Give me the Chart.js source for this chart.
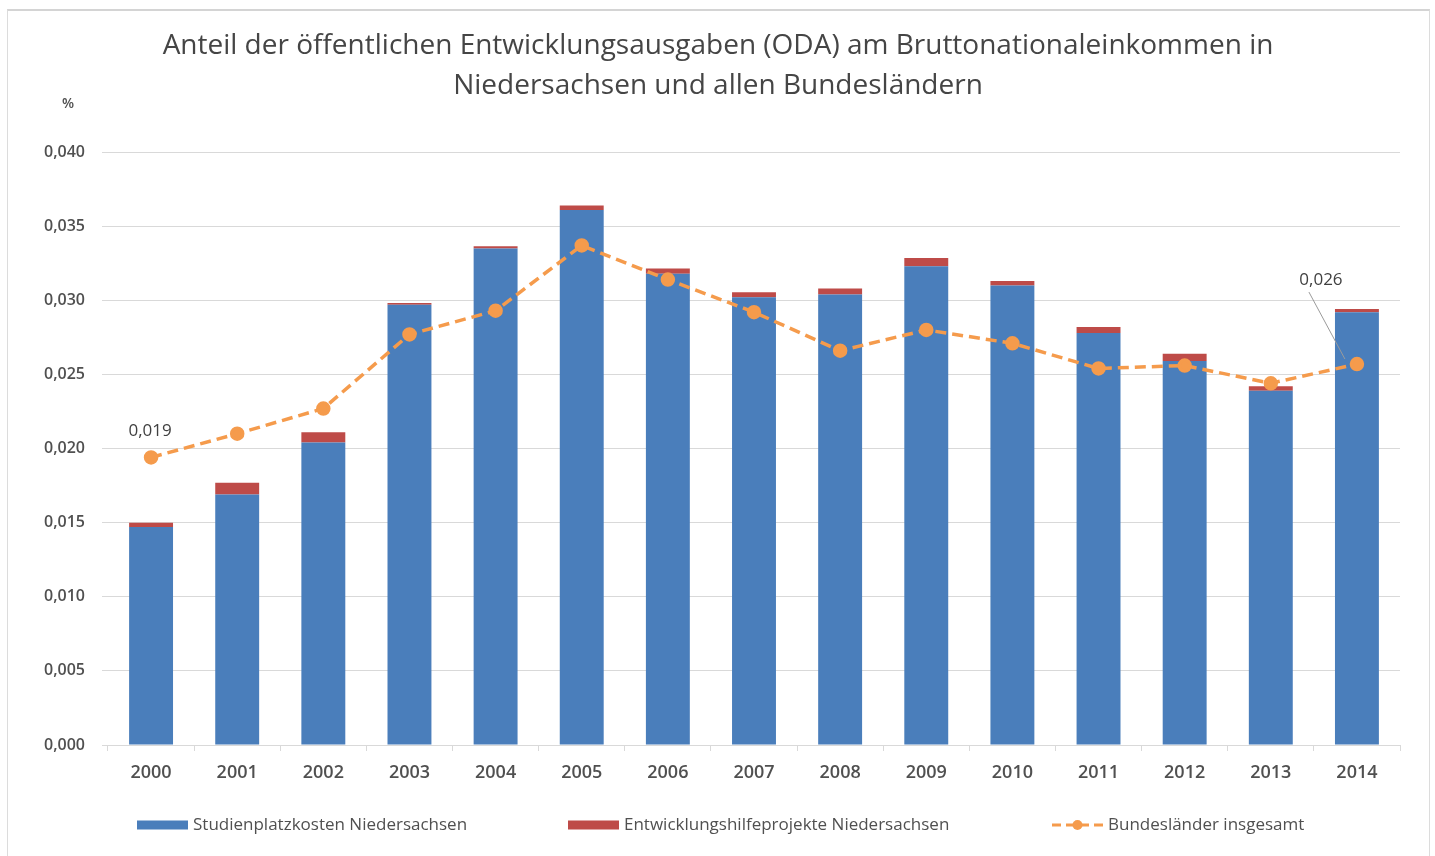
<!DOCTYPE html>
<html lang="de">
<head>
<meta charset="utf-8">
<title>ODA-Anteil am Bruttonationaleinkommen</title>
<script src="https://cdn.jsdelivr.net/npm/chart.js@4/dist/chart.umd.min.js"></script>
<style>
  html, body { margin: 0; padding: 0; background: #ffffff; }
  #frame {
    position: absolute; left: 7px; top: 9px; width: 1423px; height: 850px;
    border: 1px solid #dcdcdc; border-top: 2px solid #d4d4d4; box-sizing: border-box;
  }
  #wrap { position: absolute; left: 0; top: 0; width: 1435px; height: 856px; }
</style>
</head>
<body>
<div id="frame"></div>
<div id="wrap"><canvas id="chart"></canvas></div>
<script>
// Jahre (Kategorien)
const years = ['2000', '2001', '2002', '2003', '2004', '2005', '2006', '2007',
               '2008', '2009', '2010', '2011', '2012', '2013', '2014'];

// Anteil in % des BNE
const studienplatzkosten = [0.0147, 0.0169, 0.0204, 0.0297, 0.0335, 0.0361, 0.0318, 0.0302,
                            0.0304, 0.0323, 0.0310, 0.0278, 0.0259, 0.0239, 0.0292];
const entwicklungsprojekte = [0.0003, 0.0008, 0.0007, 0.00012, 0.00015, 0.0003, 0.00035, 0.00035,
                              0.0004, 0.00055, 0.0003, 0.0004, 0.0005, 0.0003, 0.00022];
const bundeslaender = [0.0194, 0.0210, 0.0227, 0.0277, 0.0293, 0.0337, 0.0314, 0.0292,
                       0.0266, 0.0280, 0.0271, 0.0254, 0.0256, 0.0244, 0.0257];

// Achsenbeschriftung
const yTicks = [0, 0.005, 0.010, 0.015, 0.020, 0.025, 0.030, 0.035, 0.040];
const yUnit = '%';
const titleLines = ['Anteil der öffentlichen Entwicklungsausgaben (ODA) am Bruttonationaleinkommen in',
                    'Niedersachsen und allen Bundesländern'];
const labelledPoints = [0, 14]; // Punkte mit Wertangabe

const BLUE = '#4a7ebb';
const RED = '#be4b48';
const ORANGE = '#f59b4c';
const TEXT = '#505050';
const GRID = '#d9d9d9';
const FONT = "'Open Sans', 'Noto Sans', sans-serif";

const fmt = v => v.toFixed(3).replace('.', ',');

// "%" über der Y-Achse
const unitLabel = {
  id: 'unitLabel',
  afterDraw(chart) {
    const ctx = chart.ctx;
    ctx.save();
    ctx.font = `600 14px ${FONT}`;
    ctx.fillStyle = TEXT;
    ctx.textAlign = 'center';
    ctx.textBaseline = 'middle';
    ctx.fillText(yUnit, 68, 104);
    ctx.restore();
  }
};

// Wertangaben an ausgewählten Linienpunkten
const pointLabels = {
  id: 'pointLabels',
  afterDatasetsDraw(chart) {
    const ctx = chart.ctx;
    const meta = chart.getDatasetMeta(2);
    ctx.save();
    ctx.font = `17px ${FONT}`;
    ctx.fillStyle = '#404040';
    ctx.textAlign = 'center';
    ctx.textBaseline = 'middle';
    labelledPoints.forEach(i => {
      const pt = meta.data[i];
      const text = fmt(bundeslaender[i]);
      if (i === 0) {
        ctx.fillText(text, pt.x - 1, pt.y - 26);
      } else {
        const lx = pt.x - 36, ly = pt.y - 84;
        ctx.fillText(text, lx, ly);
        ctx.strokeStyle = '#9a9a9a';
        ctx.lineWidth = 1;
        ctx.beginPath();
        ctx.moveTo(lx - 12, ly + 12);
        ctx.lineTo(pt.x - 12, pt.y - 5);
        ctx.stroke();
      }
    });
    ctx.restore();
  }
};

// Legende unter dem Diagramm
const bottomLegend = {
  id: 'bottomLegend',
  afterDraw(chart) {
    const ctx = chart.ctx;
    const y = 825;
    const starts = [137, 568, 1052];
    ctx.save();
    ctx.font = `17px ${FONT}`;
    ctx.textBaseline = 'middle';
    ctx.textAlign = 'left';
    chart.data.datasets.forEach((ds, i) => {
      const x = starts[i];
      if (ds.type === 'line') {
        ctx.strokeStyle = ds.borderColor;
        ctx.lineWidth = 3;
        ctx.setLineDash([9, 5]);
        ctx.beginPath();
        ctx.moveTo(x, y);
        ctx.lineTo(x + 51, y);
        ctx.stroke();
        ctx.setLineDash([]);
        ctx.fillStyle = ds.pointBackgroundColor;
        ctx.beginPath();
        ctx.arc(x + 25.5, y, 5, 0, Math.PI * 2);
        ctx.fill();
      } else {
        ctx.fillStyle = ds.backgroundColor;
        ctx.fillRect(x, y - 4.5, 51, 9);
      }
      ctx.fillStyle = TEXT;
      ctx.fillText(ds.label, x + 56, y);
    });
    ctx.restore();
  }
};

new Chart(document.getElementById('chart'), {
  data: {
    labels: years,
    datasets: [
      {
        type: 'bar',
        label: 'Studienplatzkosten Niedersachsen',
        data: studienplatzkosten,
        backgroundColor: BLUE,
        stack: 'nds',
        order: 2,
        categoryPercentage: 0.51,
        barPercentage: 1.0
      },
      {
        type: 'bar',
        label: 'Entwicklungshilfeprojekte Niedersachsen',
        data: entwicklungsprojekte,
        backgroundColor: RED,
        stack: 'nds',
        order: 2,
        categoryPercentage: 0.51,
        barPercentage: 1.0
      },
      {
        type: 'line',
        label: 'Bundesländer insgesamt',
        data: bundeslaender,
        borderColor: ORANGE,
        backgroundColor: ORANGE,
        pointBackgroundColor: ORANGE,
        pointBorderColor: ORANGE,
        borderWidth: 3.5,
        borderDash: [11, 6],
        pointRadius: 5.5,
        pointHoverRadius: 5.5,
        tension: 0,
        fill: false,
        stack: 'all',
        order: 0
      }
    ]
  },
  options: {
    responsive: true,
    maintainAspectRatio: false,
    animation: false,
    layout: { padding: { left: 36, right: 35, top: 0, bottom: 0 } },
    plugins: {
      legend: { display: false },
      tooltip: { enabled: false },
      title: {
        display: true,
        text: titleLines,
        color: '#454545',
        font: { family: FONT, size: 28, weight: 'normal', lineHeight: 1.43 },
        padding: { top: 26, bottom: 46 }
      }
    },
    scales: {
      x: {
        stacked: true,
        offset: true,
        grid: { offset: true, drawOnChartArea: false, color: GRID, tickLength: 6, tickColor: GRID },
        border: { color: GRID, width: 1 },
        ticks: { color: TEXT, padding: 11, font: { family: FONT, size: 18, weight: '600' } },
        afterFit(scale) { scale.height = 111; }
      },
      y: {
        stacked: true,
        min: 0,
        max: 0.04,
        afterBuildTicks(scale) { scale.ticks = yTicks.map(v => ({ value: v })); },
        grid: { color: GRID, tickLength: 6, tickColor: GRID },
        border: { display: false },
        ticks: {
          color: TEXT,
          padding: 17,
          font: { family: FONT, size: 16, weight: '600' },
          callback: v => fmt(v)
        },
        afterFit(scale) { scale.width = 72; }
      }
    }
  },
  plugins: [unitLabel, pointLabels, bottomLegend]
});
</script>
</body>
</html>
